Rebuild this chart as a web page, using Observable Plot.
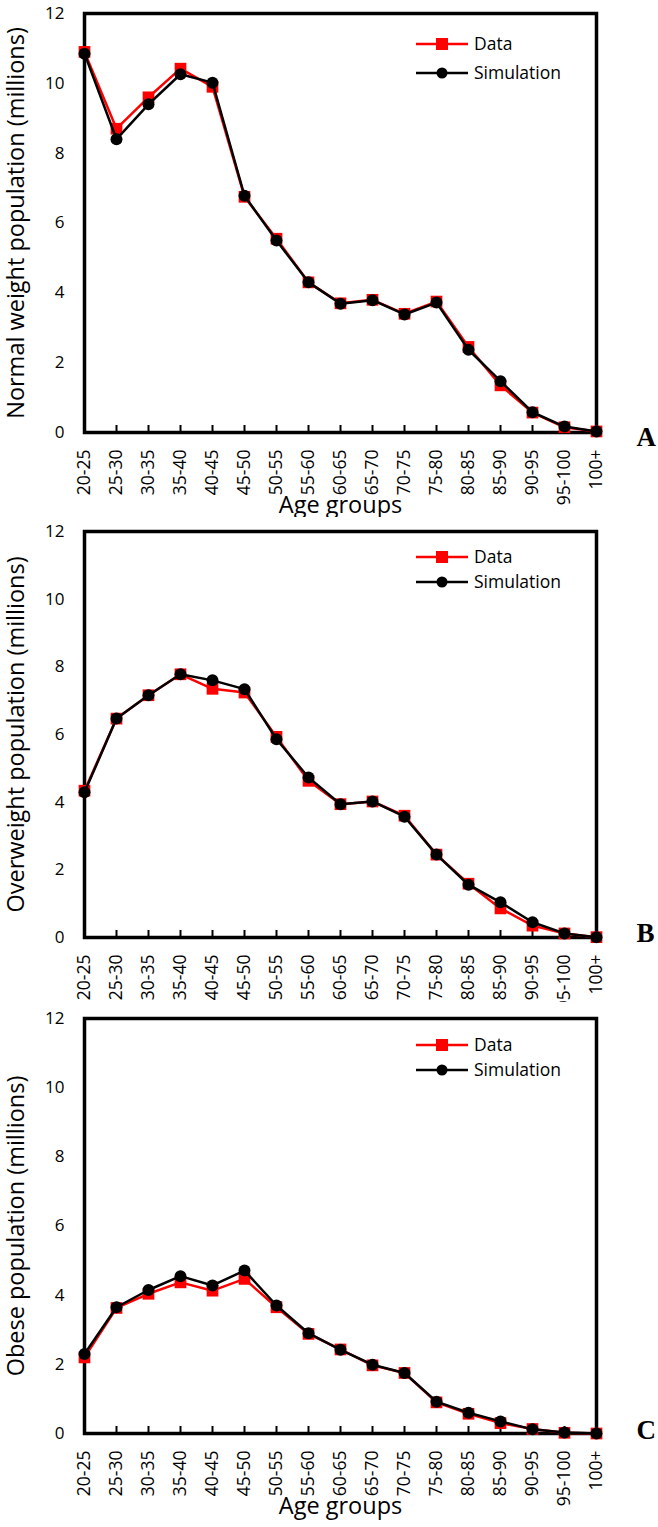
<!DOCTYPE html>
<html>
<head>
<meta charset="utf-8">
<script src="https://cdn.jsdelivr.net/npm/d3@7"></script>
<script src="https://cdn.jsdelivr.net/npm/@observablehq/plot@0.6"></script>
<style>
  html, body { margin: 0; padding: 0; background: white; }
  #root { width: 658px; }
  .panel { position: relative; width: 658px; overflow: hidden; background: white; }
  .panel svg.plot { display: block; }
  .legend { position: absolute; left: 0; top: 0; pointer-events: none; }
</style>
</head>
<body>
<div id="root"></div>
<script>
// ---- Data ----
const ageGroups = ["20-25","25-30","30-35","35-40","40-45","45-50","50-55","55-60","60-65","65-70","70-75","75-80","80-85","85-90","90-95","95-100","100+"];
const yTicks = [0, 2, 4, 6, 8, 10, 12];

const normalData = [10.9, 8.7, 9.6, 10.42, 9.9, 6.75, 5.55, 4.3, 3.7, 3.8, 3.4, 3.75, 2.45, 1.35, 0.57, 0.15, 0.03];
const normalSim  = [10.85, 8.4, 9.4, 10.26, 10.02, 6.78, 5.5, 4.3, 3.69, 3.79, 3.38, 3.72, 2.37, 1.47, 0.58, 0.17, 0.03];

const overweightData = [4.34, 6.47, 7.16, 7.78, 7.35, 7.24, 5.93, 4.63, 3.94, 4.02, 3.6, 2.45, 1.59, 0.86, 0.35, 0.12, 0.01];
const overweightSim  = [4.29, 6.47, 7.16, 7.78, 7.6, 7.34, 5.86, 4.73, 3.94, 4.02, 3.57, 2.45, 1.56, 1.04, 0.45, 0.12, 0.01];

const obeseData = [2.2, 3.63, 4.04, 4.37, 4.13, 4.47, 3.65, 2.88, 2.43, 1.97, 1.75, 0.9, 0.57, 0.3, 0.13, 0.02, 0.0];
const obeseSim  = [2.3, 3.65, 4.15, 4.55, 4.28, 4.71, 3.7, 2.9, 2.42, 1.99, 1.75, 0.92, 0.6, 0.35, 0.12, 0.03, 0.0];

const seriesNames = ["Data", "Simulation"];
const yLabels = ["Normal weight population (millions)", "Overweight population (millions)", "Obese population (millions)"];
const panelLetters = ["A", "B", "C"];
const xLabel = "Age groups";

// ---- Layout / style ----
const FONT = "'Open Sans', 'DejaVu Sans', sans-serif";
const RED = "#ff0000";

const panels = [
  {data: normalData, sim: normalSim, ylabel: yLabels[0], letter: panelLetters[0],
   divH: 517, svgH: 517, mt: 13, mb: 85, letterDy: 5, showX: true, legY: [44, 73]},
  {data: overweightData, sim: overweightSim, ylabel: yLabels[1], letter: panelLetters[1],
   divH: 485, svgH: 500, mt: 14, mb: 80, letterDy: -4, showX: false, legY: [40, 65]},
  {data: obeseData, sim: obeseSim, ylabel: yLabels[2], letter: panelLetters[2],
   divH: 525, svgH: 525, mt: 16, mb: 94, letterDy: -3, showX: true, legY: [43, 68]}
];

const root = document.getElementById("root");

for (const p of panels) {
  const rows = ageGroups.map((a, i) => ({age: a, data: p.data[i], sim: p.sim[i]}));
  const marks = [
    Plot.axisY(yTicks, {tickSize: 0, tickPadding: 20, label: null, fontSize: 17}),
    Plot.axisX(ageGroups, {tickSize: -7, tickPadding: 24, tickRotate: -90, label: null, fontSize: 17.5, strokeWidth: 2}),
    Plot.frame({stroke: "black", strokeWidth: 3.5}),
    Plot.line(rows, {x: "age", y: "data", stroke: RED, strokeWidth: 2.5}),
    Plot.dot(rows, {x: "age", y: "data", symbol: "square", r: 6.6, fill: RED, stroke: "none"}),
    Plot.line(rows, {x: "age", y: "sim", stroke: "black", strokeWidth: 2.5}),
    Plot.dot(rows, {x: "age", y: "sim", symbol: "circle", r: 6, fill: "black", stroke: "none"}),
    Plot.text([p.ylabel], {frameAnchor: "left", rotate: -90, dx: -68, textAnchor: "middle", lineAnchor: "middle",
      fontSize: 23.5, fill: "black"}),
    Plot.text([p.letter], {frameAnchor: "bottom-right", dx: 40, dy: p.letterDy, textAnchor: "start", lineAnchor: "middle",
      fontFamily: "'Liberation Serif', 'Times New Roman', serif", fontWeight: "bold", fontSize: 27, fill: "black"})
  ];
  if (p.showX) {
    marks.push(Plot.text([xLabel], {frameAnchor: "bottom", dy: 73, textAnchor: "middle", lineAnchor: "middle",
      fontSize: 23.5, fill: "black"}));
  }
  const chart = Plot.plot({
    width: 658,
    height: p.svgH,
    marginTop: p.mt,
    marginBottom: p.mb,
    marginLeft: 84,
    marginRight: 62,
    style: {fontFamily: FONT, fontSize: "17px", color: "black", background: "white", overflow: "visible"},
    x: {type: "point", domain: ageGroups, padding: 0},
    y: {domain: [0, 12]},
    marks
  });
  chart.classList.add("plot");

  const div = document.createElement("div");
  div.className = "panel";
  div.style.height = p.divH + "px";
  div.appendChild(chart);

  // legend (inside the plot frame, top right)
  const leg = d3.create("svg").attr("class", "legend").attr("width", 658).attr("height", 120)
    .style("font-family", FONT);
  const lx0 = 416, lx1 = 468, lmx = 442, tx = 474;
  seriesNames.forEach((name, i) => {
    const y = p.legY[i];
    const col = i === 0 ? RED : "black";
    leg.append("line").attr("x1", lx0).attr("x2", lx1).attr("y1", y).attr("y2", y)
      .attr("stroke", col).attr("stroke-width", 2.5);
    if (i === 0) {
      leg.append("rect").attr("x", lmx - 6).attr("y", y - 6).attr("width", 12).attr("height", 12).attr("fill", RED);
    } else {
      leg.append("circle").attr("cx", lmx).attr("cy", y).attr("r", 5.5).attr("fill", "black");
    }
    leg.append("text").attr("x", tx).attr("y", y).attr("dy", "0.35em")
      .attr("font-size", 17.5).attr("fill", "black").text(name);
  });
  div.appendChild(leg.node());
  root.appendChild(div);
}
</script>
</body>
</html>
